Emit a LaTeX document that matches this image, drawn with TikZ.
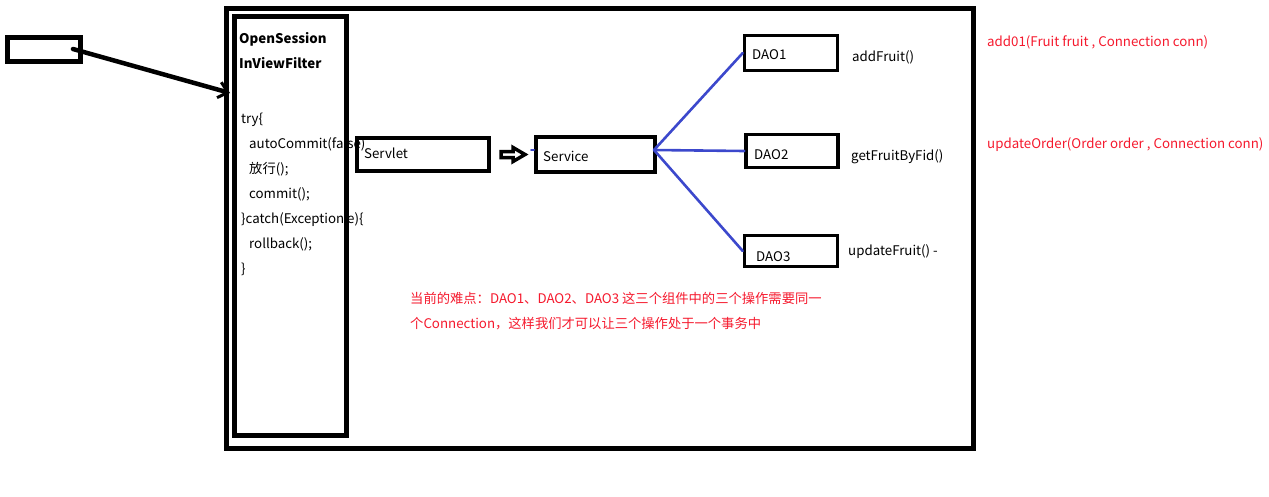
\documentclass[tikz,border=0pt]{standalone}
\usepackage{fontspec}
\setmainfont{Noto Sans CJK SC}
\usetikzlibrary{arrows.meta,positioning,calc}
\definecolor{daoblue}{RGB}{60,72,204}
\definecolor{notered}{RGB}{245,25,45}

\begin{document}
\begin{tikzpicture}[x=1pt,y=-1pt,
    font=\fontsize{13.3}{15}\selectfont,
    box/.style={draw, line width=4pt, inner sep=0pt},
    frame/.style={draw, line width=5pt, inner sep=0pt},
    txt/.style={anchor=base west, inner sep=0pt},
    red note/.style={txt, text=notered},
    link/.style={daoblue, line width=2.6pt, line cap=round}]
    \useasboundingbox (0,0) rectangle (1269,496);

    % outer frame and incoming request
    \node[frame, minimum width=747pt, minimum height=440pt] (app) at (599.5,228) {};
    \node[frame, minimum width=73pt, minimum height=24pt] (client) at (44,49) {};

    % filter text first, the border is drawn over it
    \node[txt, font=\fontsize{13.3}{15}\selectfont\bfseries] (osname) at (239,43) {OpenSession};
    \node[txt, font=\fontsize{13.3}{15}\selectfont\bfseries] (osname2) at (239,68) {InViewFilter};
    \node[txt] (c1) at (241,123) {try\{};
    \node[txt] (c2) at (249,148) {autoCommit(false)};
    \node[txt] (c3) at (249,173) {放行();};
    \node[txt] (c4) at (249,198) {commit();};
    \node[txt] (c5) at (241,223) {\}catch(Exception e)\{};
    \node[txt] (c6) at (249,248) {rollback();};
    \node[txt] (c7) at (241,273) {\}};
    \node[frame, minimum width=112pt, minimum height=419pt] (filter) at (290,225.5) {};

    \coordinate (tail) at (73,49);
    \coordinate (hit) at (230,93);
    \draw[line width=4.5pt, line cap=round, -{Straight Barb[length=9pt,width=16pt,line width=3pt]}] (tail) -- (hit);

    % servlet -> service
    \node[box, minimum width=132pt, minimum height=33pt] (servlet) at (423,154.5) {};
    \node[txt] at (364,158) {Servlet};
    \node[box, minimum width=119pt, minimum height=35pt] (service) at (595.5,154.5) {};
    \node[txt] at (543,161) {Service};

    \begin{scope}[shift={(servlet.east)}]
        \draw[line width=3.5pt, line join=miter, fill=white]
            (10,-3) -- (22,-3) -- (22,-7) -- (34,0) -- (22,7) -- (22,3) -- (10,3) -- cycle;
        \coordinate (tip) at (40,-5);
    \end{scope}
    \draw[link, line width=2pt] (tip) -- ([yshift=5pt]service.west);

    % the three DAOs
    \node[box, line width=3.5pt, minimum width=93pt, minimum height=35pt] (dao1) at (791,53) {};
    \node[box, line width=3.5pt, minimum width=92pt, minimum height=33pt] (dao2) at (792,151) {};
    \node[box, line width=3.5pt, minimum width=93pt, minimum height=31pt] (dao3) at (791,251) {};
    \node[txt] at (752,59) {DAO1};
    \node[txt] at (754,159) {DAO2};
    \node[txt] at (756,261) {DAO3};

    \coordinate (fork) at (654,150);
    \foreach \d in {dao1,dao2,dao3}
        \draw[link] (fork) -- (\d.west);

    \node[txt] (m1) at (852,61) {addFruit()};
    \node[txt] (m2) at (851,160) {getFruitByFid()};
    \node[txt] (m3) at (848,255) {updateFruit() -};

    % notes
    \node[red note] (n1) at (987,46) {add01(Fruit fruit , Connection conn)};
    \node[red note] (n2) at (987,148) {updateOrder(Order order , Connection conn)};
    \node[red note] (n3) at (410,303) {当前的难点：DAO1、DAO2、DAO3 这三个组件中的三个操作需要同一};
    \node[red note] (n4) at (410,328) {个Connection，这样我们才可以让三个操作处于一个事务中};
\end{tikzpicture}
\end{document}
